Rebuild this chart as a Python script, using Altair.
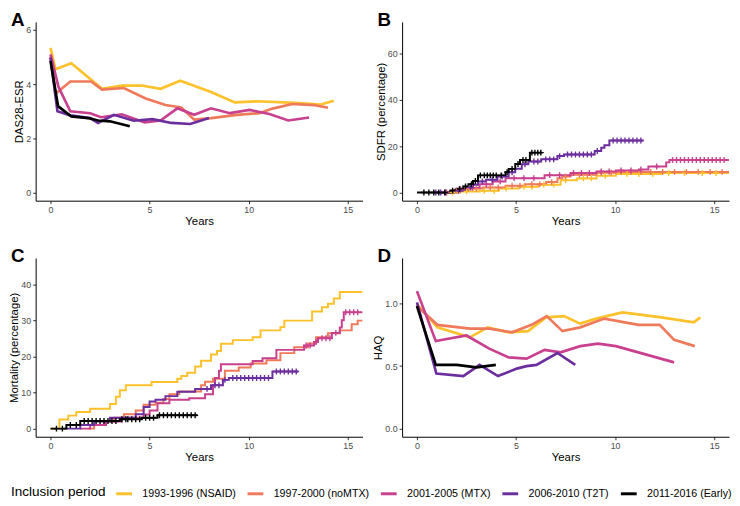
import altair as alt
import pandas as pd

periods = ["1993-1996 (NSAID)", "1997-2000 (noMTX)", "2001-2005 (MTX)",
           "2006-2010 (T2T)", "2011-2016 (Early)"]
colors = ["#FCC12B", "#EF7A5B", "#C8408E", "#6C2E9E", "#000000"]
panel_labels = ["A", "B", "C", "D"]

# ---------------- Panel A: DAS28-ESR ----------------
a_yellow_x = [0, 0.25, 1.05, 2.6, 3.6, 4.6, 5.55, 6.55, 8.1, 9.3, 10.4, 12.35, 13.65, 14.3]
a_yellow_y = [5.34, 4.55, 4.77, 3.83, 3.95, 3.95, 3.83, 4.13, 3.71, 3.33, 3.37, 3.31, 3.25, 3.39]
a_orange_x = [0, 0.25, 1.0, 2.05, 2.6, 3.7, 4.8, 5.8, 6.6, 7.25, 8.1, 9.4, 10.55, 11.2, 12.2, 13.3, 14.0]
a_orange_y = [5.0, 3.65, 4.1, 4.1, 3.8, 3.86, 3.47, 3.23, 3.14, 2.69, 2.75, 2.87, 2.93, 3.1, 3.27, 3.23, 3.13]
a_magenta_x = [0, 0.4, 1.0, 2.0, 2.55, 3.6, 4.75, 5.55, 6.4, 7.25, 8.1, 9.05, 10.05, 11.05, 12.0, 13.05]
a_magenta_y = [5.1, 3.9, 3.0, 2.93, 2.78, 2.89, 2.59, 2.66, 3.11, 2.87, 3.11, 2.93, 3.05, 2.9, 2.66, 2.77]
a_purple_x = [0, 0.35, 1.0, 2.0, 2.4, 3.2, 4.2, 5.15, 6.1, 7.05, 8.0]
a_purple_y = [4.98, 3.0, 2.85, 2.75, 2.57, 2.87, 2.65, 2.71, 2.57, 2.53, 2.75]
a_black_x = [0, 0.38, 1.05, 1.9, 2.4, 3.0, 4.0]
a_black_y = [4.86, 3.19, 2.81, 2.75, 2.66, 2.63, 2.45]

# ---------------- Panel B: SDFR (step) ----------------
b_yellow_x = [1.4, 2.18, 3.16, 4.14, 5.12, 6.11, 7.25, 8.07, 9.06, 10.04, 12.33, 15.75]
b_yellow_y = [0, 0.5, 0.8, 1.7, 2.5, 3.4, 5.3, 6.1, 7.2, 8.0, 8.4, 8.4]
b_orange_x = [1.1, 1.69, 2.34, 3.32, 4.47, 5.45, 6.52, 7.09, 7.33, 7.75, 9.06, 10.04, 15.75]
b_orange_y = [0, 0.8, 1.7, 2.2, 2.9, 3.6, 4.5, 6.2, 6.9, 7.7, 8.5, 8.9, 8.9]
b_magenta_x = [1.3, 1.93, 2.5, 3.16, 3.82, 4.47, 6.44, 7.75, 9.06, 10.04, 11.2, 11.68, 12.58, 12.74, 15.75]
b_magenta_y = [0, 1.3, 2.0, 3.6, 4.8, 6.2, 7.5, 8.4, 9.1, 9.5, 9.9, 11.2, 13.0, 14.0, 14.0]
b_purple_x = [0.87, 1.85, 2.5, 2.83, 3.08, 3.49, 4.06, 4.63, 4.96, 5.29, 5.62, 6.27, 7.09, 7.42, 8.97, 9.3, 9.46, 9.71, 11.43]
b_purple_y = [0, 0.8, 2.2, 3.4, 4.8, 5.5, 6.9, 8.7, 10.3, 12.2, 13.4, 14.3, 15.7, 16.4, 17.9, 19.3, 20.4, 22.4, 22.4]
b_black_x = [0, 1.69, 2.0, 2.34, 2.6, 2.83, 3.08, 4.14, 4.47, 4.63, 4.96, 5.2, 5.7, 6.32]
b_black_y = [0, 0.84, 1.6, 2.66, 3.6, 5.0, 7.4, 7.4, 8.8, 10.2, 12.3, 14.0, 17.2, 17.2]

b_yellow_cens = [1.8, 2.5, 3.4, 3.9, 4.5, 5.4, 5.8, 6.4, 6.9, 7.5, 8.4, 8.8, 9.5, 10.6, 11.2, 11.9, 12.7, 13.5, 14.4, 15.1]
b_orange_cens = [1.5, 2.0, 2.6, 3.0, 3.7, 4.1, 4.8, 5.2, 5.8, 6.2, 6.8, 7.5, 8.2, 8.6, 9.3, 9.8, 10.3, 10.8, 11.3, 11.8, 12.4, 13.0, 13.6, 14.2, 14.8, 15.4]
b_magenta_cens = [2.2, 2.8, 3.5, 4.2, 4.9, 5.4, 5.9, 6.7, 7.2, 7.9, 8.3, 8.7, 9.3, 9.7, 10.3, 10.8, 11.3, 12.1, 12.9, 13.1,
                  13.3, 13.5, 13.7, 13.9, 14.1, 14.3, 14.5, 14.7, 14.9, 15.1, 15.3, 15.5]
b_purple_cens = [0.95, 1.2, 1.45, 2.1, 2.7, 3.3, 3.8, 4.3, 4.8, 5.45, 5.9, 6.1, 6.5, 6.7, 6.9, 7.2, 7.6, 7.8, 8.0, 8.2,
                 8.4, 8.6, 8.8, 9.1, 9.9, 10.1, 10.3, 10.5, 10.7, 10.9, 11.1, 11.3]
b_black_cens = [0.35, 0.6, 0.85, 1.1, 1.4, 1.8, 2.15, 2.45, 2.75, 2.95, 3.2, 3.4, 3.55, 3.7, 3.85, 4.0, 4.25, 4.55,
                4.8, 5.1, 5.35, 5.5, 5.8, 5.95, 6.1, 6.25]

# ---------------- Panel C: Mortality (step) ----------------
c_yellow_x = [0, 0.45, 0.9, 1.3, 2.0, 3.0, 3.3, 3.5, 3.8, 5.1, 6.4, 6.6, 6.9, 7.3, 7.6, 8.1, 8.4, 8.6, 9.2, 10.2,
              10.6, 11.6, 11.8, 13.2, 13.7, 14.0, 14.3, 14.6, 15.75]
c_yellow_y = [0, 2.5, 3.6, 4.6, 5.5, 6.8, 8.8, 10.6, 12.0, 12.9, 13.8, 14.6, 15.5, 17.2, 18.8, 20.5, 21.5, 23.5, 24.5,
              25.3, 27.2, 28.1, 29.9, 32.4, 33.6, 34.6, 36.0, 37.8, 37.8]
c_orange_x = [1.9, 2.2, 2.7, 3.2, 3.7, 4.3, 4.7, 5.3, 5.7, 6.0, 6.5, 7.6, 7.8, 8.2, 8.8, 9.5, 10.1, 10.9, 11.6, 12.3,
              13.0, 13.4, 14.0, 14.6, 15.2, 15.5, 15.75]
c_orange_y = [0, 1.0, 2.0, 3.0, 4.0, 5.0, 6.6, 7.2, 8.2, 9.5, 10.3, 12.0, 13.0, 13.8, 16.0, 16.9, 18.0, 18.9, 20.9,
              22.5, 23.6, 25.3, 26.4, 27.2, 28.9, 29.9, 29.9]
c_magenta_x = [1.5, 2.0, 2.8, 3.6, 4.7, 5.0, 5.4, 6.0, 7.0, 7.8, 8.2, 8.3, 8.5, 8.6, 10.2, 10.7, 11.4, 12.8, 13.3,
               13.5, 14.2, 14.6, 14.7, 14.8, 15.75]
c_magenta_y = [0, 1.0, 2.0, 3.0, 3.9, 5.0, 7.0, 8.0, 8.4, 9.5, 12.0, 14.0, 16.0, 17.8, 18.7, 19.5, 21.8, 23.0, 24.0,
               25.0, 26.5, 28.0, 30.0, 32.2, 32.2]
c_purple_x = [0.7, 1.5, 2.2, 3.0, 4.3, 4.7, 5.0, 5.3, 5.8, 6.4, 7.3, 8.1, 8.7, 9.0, 11.2, 12.5]
c_purple_y = [0, 1.0, 2.0, 3.0, 4.0, 6.0, 7.5, 8.0, 9.0, 10.2, 11.0, 12.0, 13.5, 14.0, 15.8, 15.8]
c_black_x = [0, 0.8, 1.5, 3.5, 4.6, 5.4, 7.4]
c_black_y = [0, 1.0, 2.1, 2.6, 3.0, 3.7, 3.7]

c_yellow_cens = []
c_orange_cens = []
c_magenta_cens = [12.9, 13.1, 13.4, 13.7, 13.9, 14.1, 14.4, 14.9, 15.1, 15.3, 15.5]
c_purple_cens = [7.9, 8.3, 8.5, 8.8, 9.2, 9.4, 9.6, 9.8, 10.0, 10.2, 10.4, 10.6, 10.8, 11.0, 11.4, 11.6, 11.8, 12.0,
                 12.2, 12.4]
c_black_cens = [0.3, 0.6, 1.0, 1.3, 1.7, 1.9, 2.1, 2.3, 2.5, 2.7, 2.9, 3.1, 3.3, 3.6, 3.8, 3.9, 4.1, 4.3, 4.5, 4.8,
                5.0, 5.2, 5.5, 5.7, 5.9, 6.1, 6.3, 6.5, 6.7, 6.9, 7.1, 7.3]

# ---------------- Panel D: HAQ ----------------
d_yellow_x = [0, 1.03, 2.67, 3.57, 4.63, 5.6, 6.52, 7.42, 8.24, 9.05, 10.37, 12.33, 13.97, 14.3]
d_yellow_y = [0.995, 0.81, 0.73, 0.81, 0.77, 0.78, 0.89, 0.9, 0.84, 0.88, 0.93, 0.89, 0.85, 0.89]
d_orange_x = [0, 1.03, 2.67, 3.65, 4.8, 5.78, 6.55, 7.34, 8.24, 9.46, 11.18, 12.25, 12.98, 14.02]
d_orange_y = [0.98, 0.83, 0.8, 0.8, 0.77, 0.83, 0.9, 0.78, 0.81, 0.88, 0.83, 0.83, 0.71, 0.66]
d_magenta_x = [0, 0.95, 2.5, 3.65, 4.63, 5.53, 6.44, 7.25, 8.24, 9.14, 10.04, 12.98]
d_magenta_y = [1.1, 0.7, 0.745, 0.64, 0.57, 0.56, 0.63, 0.61, 0.66, 0.68, 0.66, 0.53]
d_purple_x = [0, 0.98, 2.34, 3.16, 4.09, 5.04, 5.53, 6.03, 7.09, 7.99]
d_purple_y = [1.01, 0.44, 0.42, 0.51, 0.42, 0.48, 0.5, 0.51, 0.605, 0.51]
d_black_x = [0, 0.95, 2.01, 3.0, 3.98]
d_black_y = [0.98, 0.51, 0.51, 0.49, 0.51]

x_ticks = [0, 5, 10, 15]
a_ticks = [0, 2, 4, 6]
b_ticks = [0, 20, 40, 60]
c_ticks = [0, 10, 20, 30, 40]
d_ticks = [0, 0.5, 1.0]


def line_df(xs_list, ys_list):
    rows = []
    for p, xs, ys in zip(periods, xs_list, ys_list):
        for x, y in zip(xs, ys):
            rows.append({"period": p, "x": x, "y": y})
    return pd.DataFrame(rows)


def cens_df(xs_list, ys_list, cens_list):
    rows = []
    for p, xs, ys, cs in zip(periods, xs_list, ys_list, cens_list):
        for t in cs:
            v = ys[0]
            for x, y in zip(xs, ys):
                if x <= t:
                    v = y
            rows.append({"period": p, "x": t, "y": v})
    return pd.DataFrame(rows)


dfA = line_df([a_yellow_x, a_orange_x, a_magenta_x, a_purple_x, a_black_x],
              [a_yellow_y, a_orange_y, a_magenta_y, a_purple_y, a_black_y])
bx = [b_yellow_x, b_orange_x, b_magenta_x, b_purple_x, b_black_x]
by = [b_yellow_y, b_orange_y, b_magenta_y, b_purple_y, b_black_y]
dfB = line_df(bx, by)
dfBc = cens_df(bx, by, [b_yellow_cens, b_orange_cens, b_magenta_cens, b_purple_cens, b_black_cens])
cx = [c_yellow_x, c_orange_x, c_magenta_x, c_purple_x, c_black_x]
cy = [c_yellow_y, c_orange_y, c_magenta_y, c_purple_y, c_black_y]
dfC = line_df(cx, cy)
dfCc = cens_df(cx, cy, [c_yellow_cens, c_orange_cens, c_magenta_cens, c_purple_cens, c_black_cens])
dfD = line_df([d_yellow_x, d_orange_x, d_magenta_x, d_purple_x, d_black_x],
              [d_yellow_y, d_orange_y, d_magenta_y, d_purple_y, d_black_y])

FONT = "Liberation Sans"
W, H = 331, 181
XD = [-0.75, 15.75]

legend = alt.Legend(
    title="Inclusion period", orient="none", legendX=-25, legendY=468,
    direction="horizontal", columns=5, titleOrient="left",
    titleBaseline="middle", titleFontSize=13.7, titleFontWeight="normal",
    titleFont=FONT, titleColor="black", titlePadding=9,
    labelFont=FONT, labelFontSize=10.8, labelColor="black", labelOffset=9,
    symbolType="stroke", symbolStrokeWidth=3, symbolSize=256, columnPadding=5,
)
color = alt.Color("period:N", scale=alt.Scale(domain=periods, range=colors), legend=legend)


def xenc():
    return alt.X("x:Q", scale=alt.Scale(domain=XD, nice=False, zero=False),
                 axis=alt.Axis(values=x_ticks, title="Years", format="d"))


def yenc(title, dom, vals, fmt):
    return alt.Y("y:Q", scale=alt.Scale(domain=dom, nice=False, zero=False),
                 axis=alt.Axis(values=vals, title=title, format=fmt))


def letter(i):
    return alt.Chart(pd.DataFrame({"label": [panel_labels[i]]})).mark_text(
        align="left", baseline="alphabetic", fontSize=19, fontWeight="bold", font=FONT, color="black"
    ).encode(text="label:N", x=alt.value(-25), y=alt.value(4))


cross = "M0,-1L0,1M-1,0L1,0"

A = alt.layer(
    alt.Chart(dfA).mark_line(strokeWidth=2.7, clip=True).encode(
        x=xenc(), y=yenc("DAS28-ESR", [-0.3, 6.3], a_ticks, "d"), color=color),
    letter(0),
).properties(width=W, height=H)

B = alt.layer(
    alt.Chart(dfB).mark_line(strokeWidth=2, interpolate="step-after", clip=True).encode(
        x=xenc(), y=yenc("SDFR (percentage)", [-3.5, 73.5], b_ticks, "d"), color=color),
    alt.Chart(dfBc).mark_point(shape=cross, filled=False, size=36, strokeWidth=1.4, opacity=1, clip=True).encode(
        x=xenc(), y=yenc("SDFR (percentage)", [-3.5, 73.5], b_ticks, "d"), color=color),
    letter(1),
).properties(width=W, height=H)

C = alt.layer(
    alt.Chart(dfC).mark_line(strokeWidth=2, interpolate="step-after", clip=True).encode(
        x=xenc(), y=yenc("Mortality (percentage)", [-2.25, 47.25], c_ticks, "d"), color=color),
    alt.Chart(dfCc).mark_point(shape=cross, filled=False, size=36, strokeWidth=1.4, opacity=1, clip=True).encode(
        x=xenc(), y=yenc("Mortality (percentage)", [-2.25, 47.25], c_ticks, "d"), color=color),
    letter(2),
).properties(width=W, height=H)

D = alt.layer(
    alt.Chart(dfD).mark_line(strokeWidth=2.7, clip=True).encode(
        x=xenc(), y=yenc("HAQ", [-0.065, 1.365], d_ticks, ".1f"), color=color),
    letter(3),
).properties(width=W, height=H)

chart = alt.concat(A, B, C, D, columns=2, spacing={"row": 58, "column": 40}, bounds="flush").properties(
    padding=0, background="white"
).configure_view(strokeWidth=0).configure_axis(
    grid=False, domainColor="black", domainWidth=1, tickColor="#333333", tickSize=3, tickWidth=1,
    labelColor="#4D4D4D", labelFontSize=9, labelFont=FONT, labelPadding=2,
    titleFont=FONT, titleFontSize=11.5, titleFontWeight="normal", titleColor="black", titlePadding=1,
)

chart.save("out.html", embed_options={"renderer": "svg", "actions": False})
